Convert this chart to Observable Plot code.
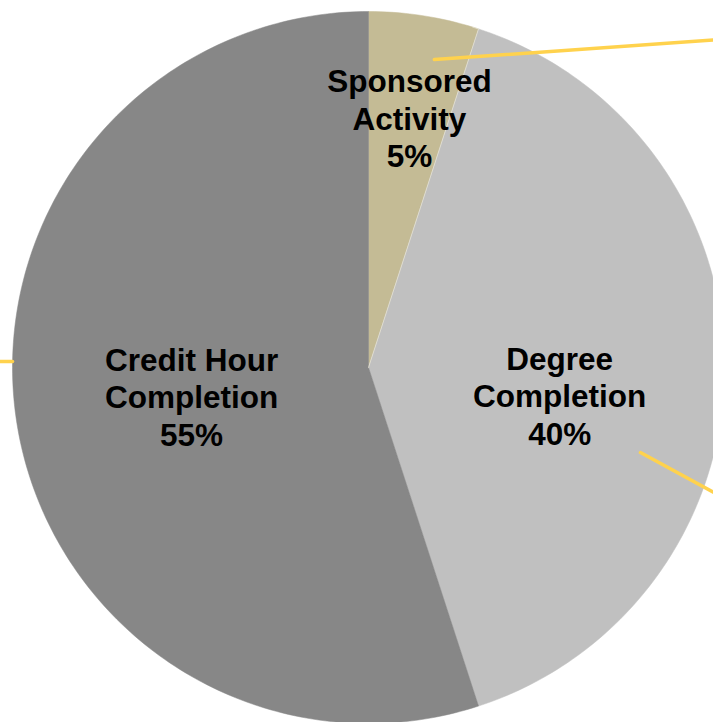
<!DOCTYPE html>
<html>
<head>
<meta charset="utf-8">
<script src="https://cdn.jsdelivr.net/npm/d3@7"></script>
<script src="https://cdn.jsdelivr.net/npm/@observablehq/plot@0.6"></script>
<style>
  html, body { margin: 0; padding: 0; background: #fff; overflow: hidden; }
</style>
</head>
<body>
<div id="chart"></div>
<script>
// Data
const categories = ["Sponsored Activity", "Degree Completion", "Credit Hour Completion"];
const labels = ["Sponsored\nActivity\n5%", "Degree\nCompletion\n40%", "Credit Hour\nCompletion\n55%"];
const shares = [5, 40, 55];
const colors = ["#C4BB95", "#C0C0C0", "#878787"];
// label anchor positions (in pie-radius units, y up)
const labelX = [0.115, 0.537, -0.497];
const labelY = [0.701, -0.078, -0.081];
// leader lines (pie-radius units, y up), run off to labels outside the frame
const leaderX1 = [0.185, 0.764, -1.034];
const leaderY1 = [0.865, -0.239, 0.017];
const leaderX2 = [0.97, 0.97, -1.0];
const leaderY2 = [0.92, -0.351, 0.017];

// Build slice polygons from shares
const total = d3.sum(shares);
const slices = [];
let start = 0;
shares.forEach((v, i) => {
  const a0 = start / total * 2 * Math.PI;
  const a1 = (start + v) / total * 2 * Math.PI;
  start += v;
  const n = Math.max(4, Math.ceil((a1 - a0) / (Math.PI / 180)));
  slices.push({cat: categories[i], x: 0, y: 0});
  for (let k = 0; k <= n; k++) {
    const a = a0 + (a1 - a0) * k / n;
    slices.push({cat: categories[i], x: Math.sin(a), y: Math.cos(a)});
  }
  slices.push({cat: categories[i], x: 0, y: 0});
});

const labelData = categories.map((c, i) => ({cat: c, text: labels[i], x: labelX[i], y: labelY[i]}));
const leaderData = [];
categories.forEach((c, i) => {
  leaderData.push({cat: c, x: leaderX1[i], y: leaderY1[i]});
  leaderData.push({cat: c, x: leaderX2[i], y: leaderY2[i]});
});

const chart = Plot.plot({
  width: 713,
  height: 722,
  margin: 0,
  style: {background: "#fff", overflow: "hidden"},
  x: {domain: [-1, 1], range: [12, 724], axis: null},
  y: {domain: [-1, 1], range: [723, 11], axis: null},
  color: {domain: categories, range: colors},
  marks: [
    Plot.line(slices, {x: "x", y: "y", z: "cat", fill: "cat", stroke: "cat", strokeWidth: 0.5, curve: "linear"}),
    Plot.line(slices.filter(d => d.cat === categories[0]).slice(-3), {x: "x", y: "y", stroke: "#E6E2D2", strokeWidth: 0.8}),
    Plot.line(leaderData, {x: "x", y: "y", z: "cat", stroke: "#FFD24D", strokeWidth: 3.5}),
    Plot.text(labelData, {
      x: "x", y: "y", text: "text",
      fontFamily: "Liberation Sans, Arial, sans-serif",
      fontWeight: "bold",
      fontSize: 31.5,
      lineHeight: 1.19,
      fill: "#000"
    })
  ]
});
document.getElementById("chart").appendChild(chart);
</script>
</body>
</html>
